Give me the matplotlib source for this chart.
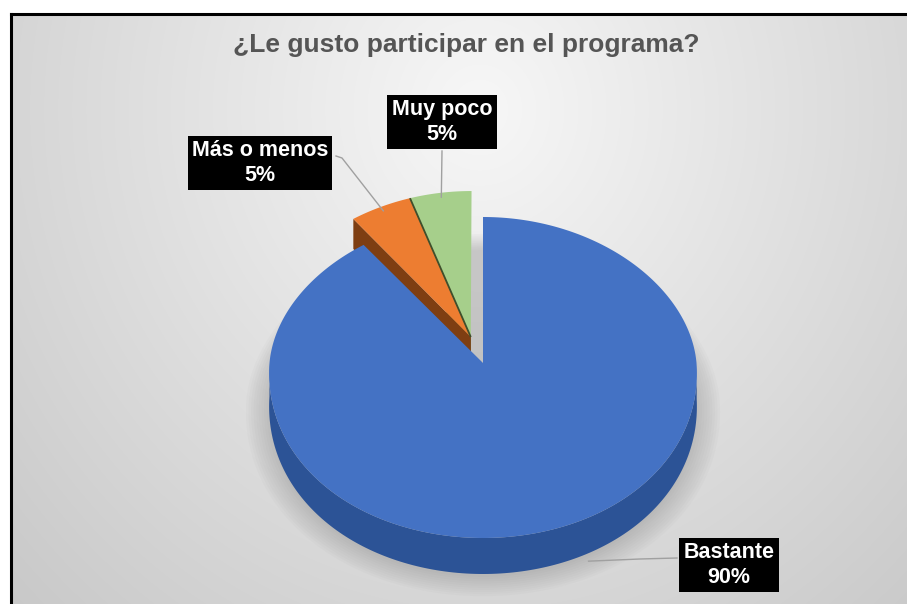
import numpy as np
import matplotlib
matplotlib.use("Agg")
import matplotlib.pyplot as plt
from matplotlib.patches import Polygon

# ---- data ----
categories = ["Bastante", "Más o menos", "Muy poco"]
values = [90, 5, 5]
title = "¿Le gusto participar en el programa?"

top_colors = ["#4472C4", "#ED7D31", "#A6CF8B"]
side_colors = ["#2C5396", "#7E3E12", "#4F6B38"]
explode = [0.0, 0.187, 0.187]

# ---- layout (pixels) ----
W, H = 907, 604
cx, cy = 483.0, 363.0          # projected centre of the top face
rx = 213.5                      # horizontal radius
ry_back, ry_front = 146.0, 175.0
persp = 0.06                    # narrowing towards the back


def depth(Y):
    return 33.0 - 3.0 * Y


def proj(X, Y, z=0.0):
    X = np.asarray(X, float)
    Y = np.asarray(Y, float)
    sx = cx + rx * X * (1 - persp * Y)
    sy = cy - np.where(Y > 0, ry_back, ry_front) * Y + z * depth(Y)
    return sx, sy


fig = plt.figure(figsize=(W / 100, H / 100), dpi=100)
ax = fig.add_axes([0, 0, 1, 1])
ax.set_xlim(0, W)
ax.set_ylim(H, 0)
ax.axis("off")
fig.patch.set_facecolor("white")

# ---- chart area background: soft radial grey gradient ----
x0, y0 = 11, 14
gx = np.arange(x0, W) + 0.5
gy = np.arange(y0, H) + 0.5
GX, GY = np.meshgrid(gx, gy)
r = np.sqrt(((GX - 480) / 520) ** 2 + ((GY - 110) / 560) ** 2)
v = np.clip(247 - 37 * r, 0, 255) / 255
ax.imshow(np.dstack([v, v, v]), extent=(x0, W, H, y0), zorder=0,
          interpolation="bilinear", aspect="auto")
ax.plot([x0, x0], [H + 5, y0], color="black", lw=2.2, zorder=1,
        solid_capstyle="projecting")
ax.plot([x0, W + 5], [y0, y0], color="black", lw=2.2, zorder=1,
        solid_capstyle="projecting")

# ---- slice geometry from the values ----
total = float(sum(values))
starts, ends = [], []
acc = 0.0
for val in values:
    s = 90.0 - acc / total * 360.0
    e = s - val / total * 360.0
    starts.append(s)
    ends.append(e)
    acc += val
mids = [np.radians((s + e) / 2) for s, e in zip(starts, ends)]

# exploded slices move together, along the mean bisector of the group
pulled = [i for i, ex in enumerate(explode) if ex > 0]
group_dir = np.mean([mids[i] for i in pulled])
offsets = [(ex * np.cos(group_dir), ex * np.sin(group_dir)) for ex in explode]

# soft shadow under the pie
for k in range(10):
    th = np.linspace(0, 2 * np.pi, 200)
    g = 1.0 + 0.012 * k
    sx, sy = proj(g * np.cos(th), g * np.sin(th), 1)
    ax.add_patch(Polygon(np.column_stack([sx, sy + 3]), closed=True,
                         fc="#7a7a7a", ec="none", alpha=0.035, zorder=1))

# paint from the back of the pie towards the viewer
order = sorted(range(len(values)),
               key=lambda i: -(offsets[i][1] + 0.5 * np.sin(mids[i])))
z = 2
for i in order:
    s, e = starts[i], ends[i]
    ox, oy = offsets[i]
    th = np.radians(np.linspace(s, e, 300))
    X = ox + np.cos(th)
    Y = oy + np.sin(th)

    # radial faces facing the viewer
    for phi, is_start in ((s, True), (e, False)):
        c = np.cos(np.radians(phi))
        if (is_start and c < -1e-9) or ((not is_start) and c > 1e-9):
            px = np.array([ox, ox + np.cos(np.radians(phi))])
            py = np.array([oy, oy + np.sin(np.radians(phi))])
            tx, ty = proj(px, py, 0)
            bx, by = proj(px, py, 1)
            poly = np.column_stack([np.r_[tx, bx[::-1]], np.r_[ty, by[::-1]]])
            ax.add_patch(Polygon(poly, closed=True, fc=side_colors[i],
                                 ec="none", zorder=z))
            z += 1

    # outer rim side, front part only
    front = np.sin(th) <= 0
    if front.any():
        idx = np.where(front)[0]
        seg = np.split(idx, np.where(np.diff(idx) > 1)[0] + 1)
        for sg in seg:
            tx, ty = proj(X[sg], Y[sg], 0)
            bx, by = proj(X[sg], Y[sg], 1)
            poly = np.column_stack([np.r_[tx, bx[::-1]], np.r_[ty, by[::-1]]])
            ax.add_patch(Polygon(poly, closed=True, fc=side_colors[i],
                                 ec="none", zorder=z))
            z += 1

    # top face
    tx, ty = proj(np.r_[ox, X], np.r_[oy, Y], 0)
    ax.add_patch(Polygon(np.column_stack([tx, ty]), closed=True,
                         fc=top_colors[i], ec="none", zorder=z))
    z += 1

# thin dark seam between neighbouring pulled slices
for i in pulled:
    j = (i + 1) % len(values)
    if j in pulled:
        ox, oy = offsets[i]
        phi = np.radians(ends[i])
        tx, ty = proj([ox, ox + np.cos(phi)], [oy, oy + np.sin(phi)], 0)
        ax.plot(tx, ty, color="#3f4f2c", lw=1.3, zorder=z,
                solid_capstyle="butt")
z += 1

# ---- title ----
ax.text(466, 45, title, ha="center", va="center", fontsize=19,
        fontweight="bold", color="#555555", family="Liberation Sans",
        zorder=z)

# ---- data labels with leader lines ----
label_pos = {0: (729, 565), 1: (260, 163), 2: (442, 122)}
leader_start = {0: [(677, 558), (640, 559)], 1: [(336, 156), (342, 158)],
                2: [(442, 151)]}
for i, name in enumerate(categories):
    pct = f"{values[i] / total * 100:.0f}%"
    lx, ly = label_pos[i]
    ax.text(lx, ly, f"{name}\n{pct}", ha="center", va="center",
            fontsize=15.5, fontweight="bold", color="white",
            family="Liberation Sans", linespacing=1.2, zorder=z + 2,
            bbox=dict(boxstyle="square,pad=0.2", fc="black", ec="none"))
    b = mids[i]
    ox, oy = offsets[i]
    if i == 0:
        b = np.radians(-62)
        ex, ey = proj(ox + np.cos(b), oy + np.sin(b), 1)
        ey = ey + 8
    else:
        ex, ey = proj(ox + 0.97 * np.cos(b), oy + 0.97 * np.sin(b), 0)
    pts = leader_start[i] + [(float(ex), float(ey))]
    ax.plot([p[0] for p in pts], [p[1] for p in pts], color="#a0a0a0",
            lw=1.0, zorder=z + 1)

fig.savefig("out.png", dpi=100, facecolor="white")
